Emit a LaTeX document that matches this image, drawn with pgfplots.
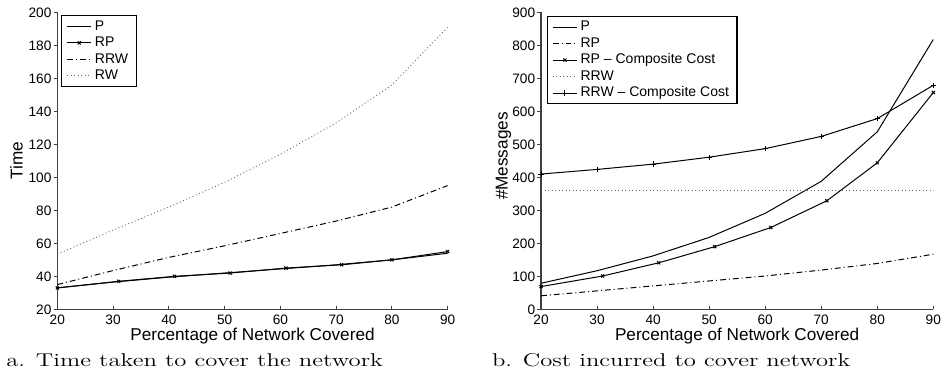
\documentclass[border=0pt]{standalone}
\usepackage{fontspec}
\usepackage{graphicx}
\usepackage{pgfplots}
\pgfplotsset{compat=1.18}
\newfontfamily\arial[Ligatures=TeX]{Liberation Sans}
\pgfplotsset{
  common/.style={
    scale only axis,
    height=178.2pt,
    axis lines=left,
    axis line style={-, line width=0.8pt, black!75},
    x axis line style={-}, y axis line style={-},
    tick align=inside,
    major tick length=2.2pt,
    tick style={line width=0.6pt, black!75},
    ytick style={xshift=-2.2pt},
    xmin=20, xmax=90,
    xtick={20,30,...,90},
    /pgf/number format/assume math mode=true,
    ticklabel style={font=\arial\fontsize{8.2}{9}\selectfont},
    label style={font=\arial\fontsize{10.3}{12}\selectfont},
    xlabel style={at={(axis description cs:0.5,-0.1033)}, anchor=base},
    xlabel={Percentage of Network Covered},
    legend style={font=\arial\fontsize{8.4}{9.5}\selectfont, draw=black, line width=0.7pt,
      inner xsep=3pt, inner ysep=1.5pt, row sep=0pt,
      nodes={inner xsep=1.8pt, inner ysep=0.95pt, text height=6.2pt, text depth=1.8pt}},
    legend cell align=left,
    legend image code/.code={\draw[mark repeat=2,mark phase=2,#1] plot coordinates {(0pt,0pt) (7.3pt,0pt) (14.6pt,0pt)};},
    every axis plot/.append style={line width=0.6pt, black},
  },
  dd/.style={dash pattern=on 3.5pt off 1.8pt on 0.6pt off 1.8pt},
  dt/.style={black!60, line width=0.5pt, dash pattern=on 0.6pt off 1.5pt},
}
\begin{document}
\begin{tikzpicture}
\useasboundingbox (0,0) rectangle (566.4pt,228.6pt);
\begin{axis}[common,
  at={(34.4pt,43.0pt)}, anchor=south west,
  width=234.2pt,
  ymin=20, ymax=200, ytick={20,40,...,200},
  ylabel={Time},
  ylabel style={at={(axis description cs:-0.0888,0.5)}, rotate=0, anchor=base},
  legend style={at={(0.0095,0.991)}, anchor=north west},
]
\addplot[no marks] coordinates {(20,33)(30,36.5)(40,39.5)(50,42)(60,44.5)(70,47)(80,50)(90,54)};
\addlegendentry{P}
\addplot[mark=x, mark size=1.3pt, mark options={solid}] coordinates {(20,33)(31,37)(41,40)(51,42)(61,45)(71,47)(80,50)(90,55)};
\addlegendentry{RP}
\addplot[no marks, dd] coordinates {(20,35)(30,43.5)(40,51.5)(50,58.5)(60,66)(70,73.5)(80,82)(90,95)};
\addlegendentry{RRW}
\addplot[no marks, dt] coordinates {(20,53.5)(30,68)(40,82)(50,97)(60,114)(70,133)(80,156)(90,191)};
\addlegendentry{RW}
\end{axis}
\begin{axis}[common,
  at={(324.6pt,43.0pt)}, anchor=south west,
  width=235.4pt,
  ymin=0, ymax=900, ytick={0,100,...,900},
  ylabel={\#Messages},
  ylabel style={at={(axis description cs:-0.085,0.516)}, rotate=0, anchor=base},
  legend style={at={(0.0145,0.9885)}, anchor=north west},
]
\addplot[no marks] coordinates {(20,79)(30,117)(40,162)(50,218)(60,291)(70,388)(80,538)(90,818)};
\addlegendentry{P}
\addplot[no marks, dd] coordinates {(20,41)(30,56)(40,71)(50,86)(60,101)(70,119)(80,139)(90,167)};
\addlegendentry{RP}
\addplot[mark=x, mark size=1.3pt, mark options={solid}] coordinates {(20,69)(31,101)(41,141)(51,190)(61,248)(71,329)(80,444)(90,657)};
\addlegendentry{RP \textendash{} Composite Cost}
\addplot[no marks, dt] coordinates {(20,360)(90,360)};
\addlegendentry{RRW}
\addplot[mark=+, mark size=1.6pt, mark options={solid}] coordinates {(20,410)(30,424)(40,440)(50,461)(60,487)(70,524)(80,578)(90,679)};
\addlegendentry{RRW \textendash{} Composite Cost}
\end{axis}
\node[anchor=base west, inner sep=0pt] at (3.6pt,9pt) {\resizebox{226pt}{\height}{\fontsize{11.1}{13}\selectfont a. Time taken to cover the network}};
\node[anchor=base west, inner sep=0pt] at (295pt,9pt) {\resizebox{215pt}{\height}{\fontsize{11.1}{13}\selectfont b. Cost incurred to cover network}};
\end{tikzpicture}
\end{document}
